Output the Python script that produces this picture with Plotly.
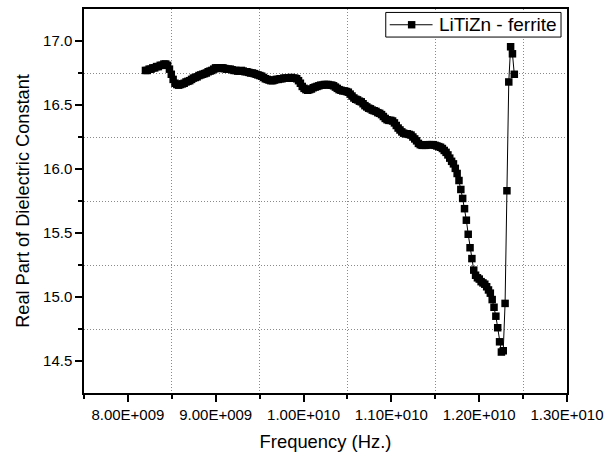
import plotly.graph_objects as go

# Frequency sweep of the waveguide measurement (X-band, 201 points)
sweep_start_hz = 8.2e9
sweep_step_hz = 21e6

# Real part of the dielectric constant at each sweep point
eps_real = [
    16.77, 16.77, 16.78, 16.78, 16.79, 16.79, 16.80, 16.80, 16.81, 16.81,
    16.82, 16.82, 16.81, 16.78, 16.74, 16.70, 16.67, 16.66, 16.655, 16.66,
    16.665, 16.67, 16.68, 16.685, 16.69, 16.70, 16.71, 16.715, 16.72, 16.73,
    16.735, 16.74, 16.745, 16.75, 16.76, 16.765, 16.77, 16.78, 16.79, 16.79,
    16.785, 16.79, 16.79, 16.785, 16.78, 16.78, 16.78, 16.775, 16.77, 16.77,
    16.765, 16.765, 16.77, 16.765, 16.76, 16.76, 16.755, 16.75, 16.75, 16.745,
    16.74, 16.735, 16.73, 16.725, 16.715, 16.705, 16.70, 16.695, 16.69, 16.69,
    16.695, 16.70, 16.70, 16.705, 16.705, 16.71, 16.71, 16.71, 16.71, 16.715,
    16.71, 16.71, 16.705, 16.69, 16.67, 16.645, 16.63, 16.62, 16.615, 16.62,
    16.625, 16.635, 16.64, 16.645, 16.65, 16.655, 16.655, 16.66, 16.66, 16.66,
    16.655, 16.655, 16.65, 16.64, 16.63, 16.62, 16.615, 16.61, 16.61, 16.605,
    16.60, 16.585, 16.57, 16.555, 16.545, 16.54, 16.53, 16.525, 16.51, 16.495,
    16.485, 16.475, 16.47, 16.46, 16.455, 16.45, 16.44, 16.435, 16.425, 16.41,
    16.395, 16.385, 16.38, 16.38, 16.375, 16.36, 16.34, 16.32, 16.305, 16.29,
    16.28, 16.275, 16.275, 16.27, 16.265, 16.25, 16.235, 16.22, 16.20, 16.19,
    16.185, 16.185, 16.185, 16.19, 16.19, 16.19, 16.19, 16.185, 16.18, 16.175,
    16.17, 16.16, 16.145, 16.13, 16.11, 16.085, 16.06, 16.04, 16.005, 15.965,
    15.91, 15.84, 15.77, 15.69, 15.60, 15.49, 15.385, 15.30, 15.21, 15.17,
    15.15, 15.14, 15.12, 15.11, 15.10, 15.08, 15.055, 15.03, 14.98, 14.92,
    14.85, 14.76, 14.65, 14.57, 14.58, 14.95, 15.83, 16.68, 16.955, 16.90,
    16.74,
]

freq_hz = [sweep_start_hz + k * sweep_step_hz for k in range(len(eps_real))]

series_name = "LiTiZn - ferrite"

x_tick_vals = [8.0e9, 9.0e9, 10.0e9, 11.0e9, 12.0e9, 13.0e9]
x_tick_text = ["8.00E+009", "9.00E+009", "1.00E+010", "1.10E+010", "1.20E+010", "1.30E+010"]
x_minor_vals = [7.5e9, 8.5e9, 9.5e9, 10.5e9, 11.5e9, 12.5e9]

y_tick_vals = [14.5, 15.0, 15.5, 16.0, 16.5, 17.0]
y_tick_text = ["14.5", "15.0", "15.5", "16.0", "16.5", "17.0"]
y_minor_vals = [14.75, 15.25, 15.75, 16.25, 16.75]

FONT = "Liberation Sans, Arial, sans-serif"
GRID = dict(showgrid=True, gridcolor="#8a8a8a", gridwidth=1, griddash="1px,2px")

# figure geometry (pixels)
W, H = 611, 456
M_L, M_R, M_T, M_B = 84, 42, 7, 59
PLOT_W = W - M_L - M_R
PLOT_H = H - M_T - M_B


def px_x(p):
    """Horizontal pixel position -> paper coordinate."""
    return (p - M_L) / PLOT_W


def px_y(p):
    """Vertical pixel position (from top) -> paper coordinate."""
    return 1 - (p - M_T) / PLOT_H


fig = go.Figure()
fig.add_trace(go.Scatter(
    x=freq_hz, y=eps_real, name=series_name,
    mode="lines+markers",
    line=dict(color="black", width=1),
    marker=dict(symbol="square", size=7.5, color="black", line=dict(width=0)),
    showlegend=False,
))

axis_common = dict(
    showline=True, linecolor="black", linewidth=1.5, mirror=True,
    ticks="outside", ticklen=7, tickwidth=1.5, tickcolor="black",
    showgrid=False, zeroline=False,
    tickfont=dict(family=FONT, size=15, color="black"),
)

fig.update_xaxes(
    range=[7.5e9, 13.0e9], tickmode="array", tickvals=x_tick_vals, ticktext=x_tick_text,
    minor=dict(tickmode="array", tickvals=x_minor_vals, ticks="outside", ticklen=4,
               tickcolor="black", **GRID),
    title=dict(text="Frequency (Hz.)", font=dict(family=FONT, size=18.4, color="black"), standoff=13),
    **axis_common,
)
fig.update_yaxes(
    range=[14.25, 17.25], tickmode="array", tickvals=y_tick_vals, ticktext=y_tick_text,
    minor=dict(tickmode="array", tickvals=y_minor_vals, ticks="outside", ticklen=4,
               tickcolor="black", **GRID),
    title=dict(text="Real Part of Dielectric Constant", font=dict(family=FONT, size=18.2, color="black"),
               standoff=9),
    **axis_common,
)

# Legend box: frame, line-and-marker key, and series label
box_l, box_r, box_t, box_b = 387, 563, 10.5, 35.5
key_y = (box_t + box_b) / 2
key_x0, key_x1, key_mark = 391, 434, 413
mark_half = 3.75

shapes = [
    dict(type="rect", xref="paper", yref="paper",
         x0=px_x(box_l), x1=px_x(box_r), y0=px_y(box_b), y1=px_y(box_t),
         line=dict(color="black", width=1), fillcolor="white", layer="above"),
    dict(type="line", xref="paper", yref="paper",
         x0=px_x(key_x0), x1=px_x(key_x1), y0=px_y(key_y), y1=px_y(key_y),
         line=dict(color="black", width=1), layer="above"),
    dict(type="rect", xref="paper", yref="paper",
         x0=px_x(key_mark - mark_half), x1=px_x(key_mark + mark_half),
         y0=px_y(key_y + mark_half), y1=px_y(key_y - mark_half),
         line=dict(width=0), fillcolor="black", layer="above"),
]

annotations = [
    dict(text=series_name, xref="paper", yref="paper",
         x=px_x(438), y=px_y(key_y), xanchor="left", yanchor="middle",
         showarrow=False, font=dict(family=FONT, size=19, color="black")),
]

fig.update_layout(
    width=W, height=H,
    margin=dict(l=M_L, r=M_R, t=M_T, b=M_B),
    paper_bgcolor="white", plot_bgcolor="white",
    font=dict(family=FONT, color="black"),
    showlegend=False,
    shapes=shapes,
    annotations=annotations,
)

fig.write_html("out.html")
